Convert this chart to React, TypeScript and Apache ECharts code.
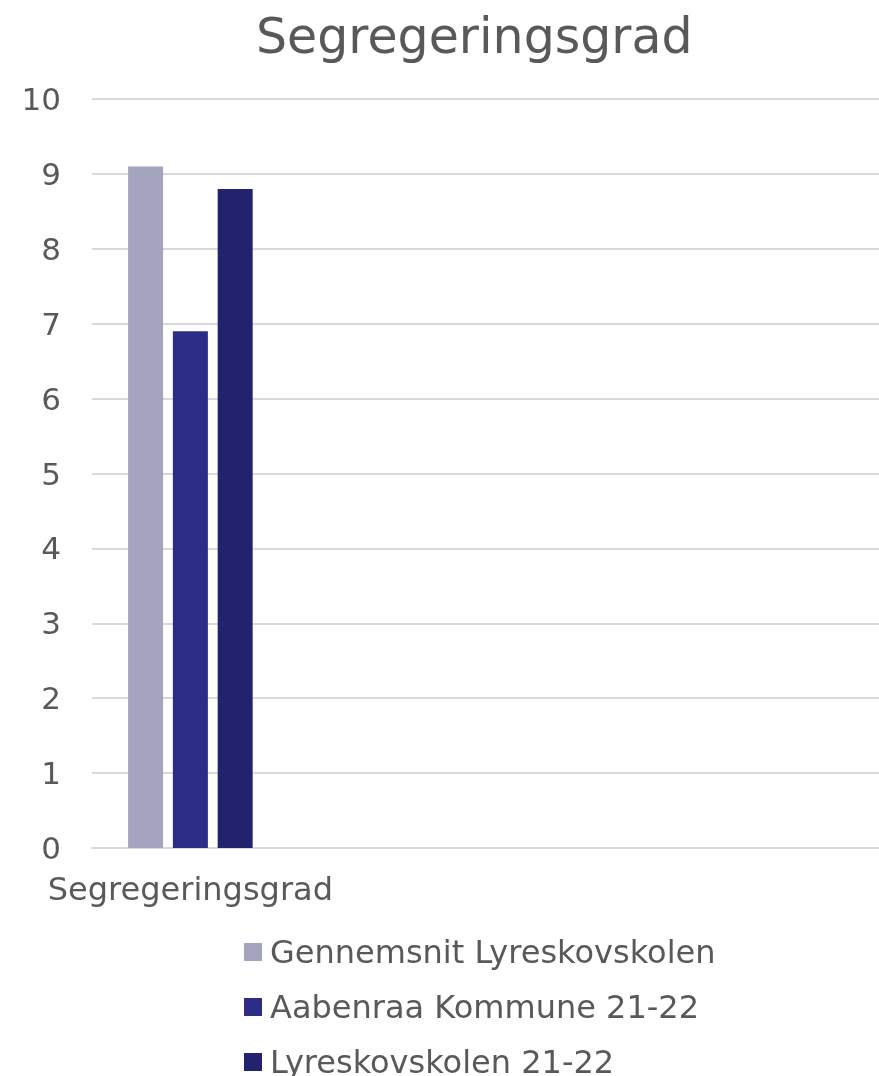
import React, { useEffect, useRef } from "react";
import * as echarts from "echarts";

const categories = ["Segregeringsgrad", "", "", ""];
const seriesNames = ["Gennemsnit Lyreskovskolen", "Aabenraa Kommune 21-22", "Lyreskovskolen 21-22"];
const seriesValues = [[9.1], [6.9], [8.8]];
const seriesColors = ["#A4A4BF", "#2D2D88", "#22226F"];
const legendTops = [936, 991, 1046];

export default function App() {
  const ref = useRef<HTMLDivElement>(null);
  useEffect(() => {
    if (!ref.current) return;
    const chart = echarts.init(ref.current, null, { renderer: "svg" });
    const font = "DejaVu Sans, Verdana, sans-serif";
    chart.setOption({
      animation: false,
      title: {
        text: "Segregeringsgrad",
        left: 251,
        top: 7,
        textStyle: { fontFamily: font, fontSize: 49, fontWeight: "normal", color: "#595959" },
      },
      grid: { left: 92, right: 0, top: 99, bottom: 228, containLabel: false },
      legend: seriesNames.map((name, i) => ({
        orient: "vertical",
        left: 244,
        top: legendTops[i],
        padding: 0,
        itemWidth: 18,
        itemHeight: 18,
        icon: "rect",
        textStyle: { fontFamily: font, fontSize: 32, color: "#595959", padding: [0, 0, 0, 3] },
        data: [name],
      })),
      xAxis: {
        type: "category",
        data: categories,
        axisLine: { show: true, lineStyle: { color: "#D9D9D9", width: 2 } },
        axisTick: { show: false },
        axisLabel: { fontFamily: font, fontSize: 32, color: "#595959", margin: 25 },
      },
      yAxis: {
        type: "value",
        min: 0,
        max: 10,
        interval: 1,
        axisLine: { show: false },
        axisTick: { show: false },
        splitLine: { lineStyle: { color: "#D9D9D9", width: 2 } },
        axisLabel: { fontFamily: font, fontSize: 31, color: "#595959", margin: 31 },
      },
      series: seriesNames.map((name, i) => ({
        name,
        type: "bar",
        data: seriesValues[i],
        barWidth: 35,
        barGap: "28%",
        itemStyle: { color: seriesColors[i] },
      })),
    });
    return () => chart.dispose();
  }, []);
  return <div ref={ref} style={{ position: "fixed", left: 0, top: 0, width: 879, height: 1076 }} />;
}
